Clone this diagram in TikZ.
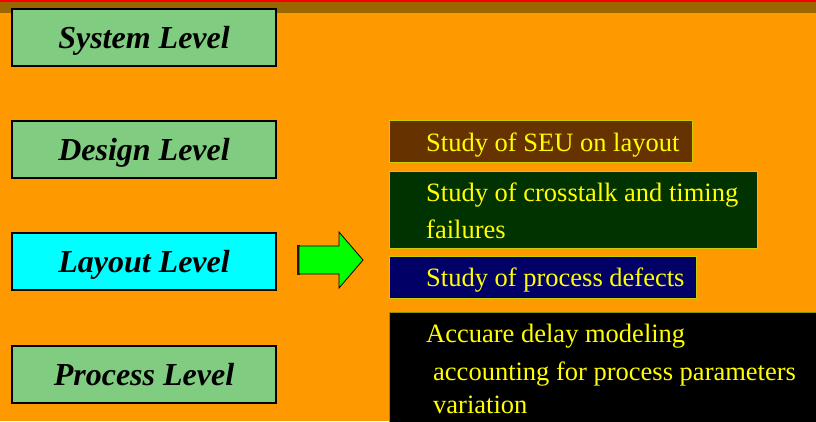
\documentclass[tikz,border=0pt]{standalone}
\usepackage{fontspec}
\setmainfont{Liberation Serif}
\definecolor{bgorange}{HTML}{FF9900}
\definecolor{bandbrown}{HTML}{996600}
\definecolor{levelgreen}{HTML}{80CC80}
\definecolor{levelcyan}{HTML}{00FFFF}
\definecolor{arrowgreen}{HTML}{00FF00}
\definecolor{seubrown}{HTML}{663300}
\definecolor{darkgreen}{HTML}{003300}
\definecolor{navy}{HTML}{000066}
\definecolor{txtyellow}{HTML}{FFFF00}
\definecolor{edgeyellow}{HTML}{CCCC00}
\tikzset{
  levelbox/.style={draw=black, line width=2pt, fill=levelgreen, minimum width=264pt,
    minimum height=57pt, inner sep=0pt, anchor=north west, text height=25pt, text depth=3pt,
    font=\fontsize{32}{32}\selectfont\bfseries\itshape},
  studybox/.style={draw=edgeyellow, line width=0.8pt, inner sep=0pt, anchor=north west},
  studytext/.style={text=txtyellow, anchor=base west, inner sep=0pt,
    font=\fontsize{26.5}{26.5}\selectfont},
}
\begin{document}
\begin{tikzpicture}[x=1pt, y=-1pt]
  % page frame and background
  \useasboundingbox (0,0) rectangle (816,421);
  \fill[bgorange] (0,0) rectangle (816,421);
  \fill[bandbrown] (0,2) rectangle (816,12.5);
  \fill[red] (0,0) rectangle (816,2);

  % abstraction levels
  \node[levelbox] (sys) at (11,8) {System Level};
  \node[levelbox] (des) at (11,120) {Design Level};
  \node[levelbox, fill=levelcyan] (lay) at (11,232) {Layout Level};
  \node[levelbox] (proc) at (11,345) {Process Level};

  % block arrow pointing to the layout-level studies
  \fill[black!70!bandbrown] (297,245) rectangle (300,275);
  \draw[fill=arrowgreen, draw=black, line width=0.8pt, line join=miter]
    (299,246) -- (339,246) -- (339,232) -- (363,260) -- (339,288) -- (339,274) -- (299,274) -- cycle;

  % layout-level studies
  \node[studybox, fill=seubrown, minimum width=303pt, minimum height=42pt] (seu) at (389,120) {};
  \node[studytext] (seu1) at (426,151) {Study of SEU on layout};

  \node[studybox, fill=darkgreen, minimum width=368pt, minimum height=77pt] (xtalk) at (389,171) {};
  \node[studytext] (xtalk1) at (426,201) {Study of crosstalk and timing};
  \node[studytext] (xtalk2) at (426,238) {failures};

  \node[studybox, fill=navy, minimum width=307pt, minimum height=42pt] (defect) at (389,256) {};
  \node[studytext] (defect1) at (426,286) {Study of process defects};

  \node[studybox, fill=black, draw=edgeyellow!70!black, minimum width=427pt, minimum height=115pt] (delay) at (389,312) {};
  \node[studytext] (delay1) at (426,342) {Accuare delay modeling};
  \node[studytext] (delay2) at (433,380) {accounting for process parameters};
  \node[studytext] (delay3) at (433,413) {variation};
\end{tikzpicture}
\end{document}
